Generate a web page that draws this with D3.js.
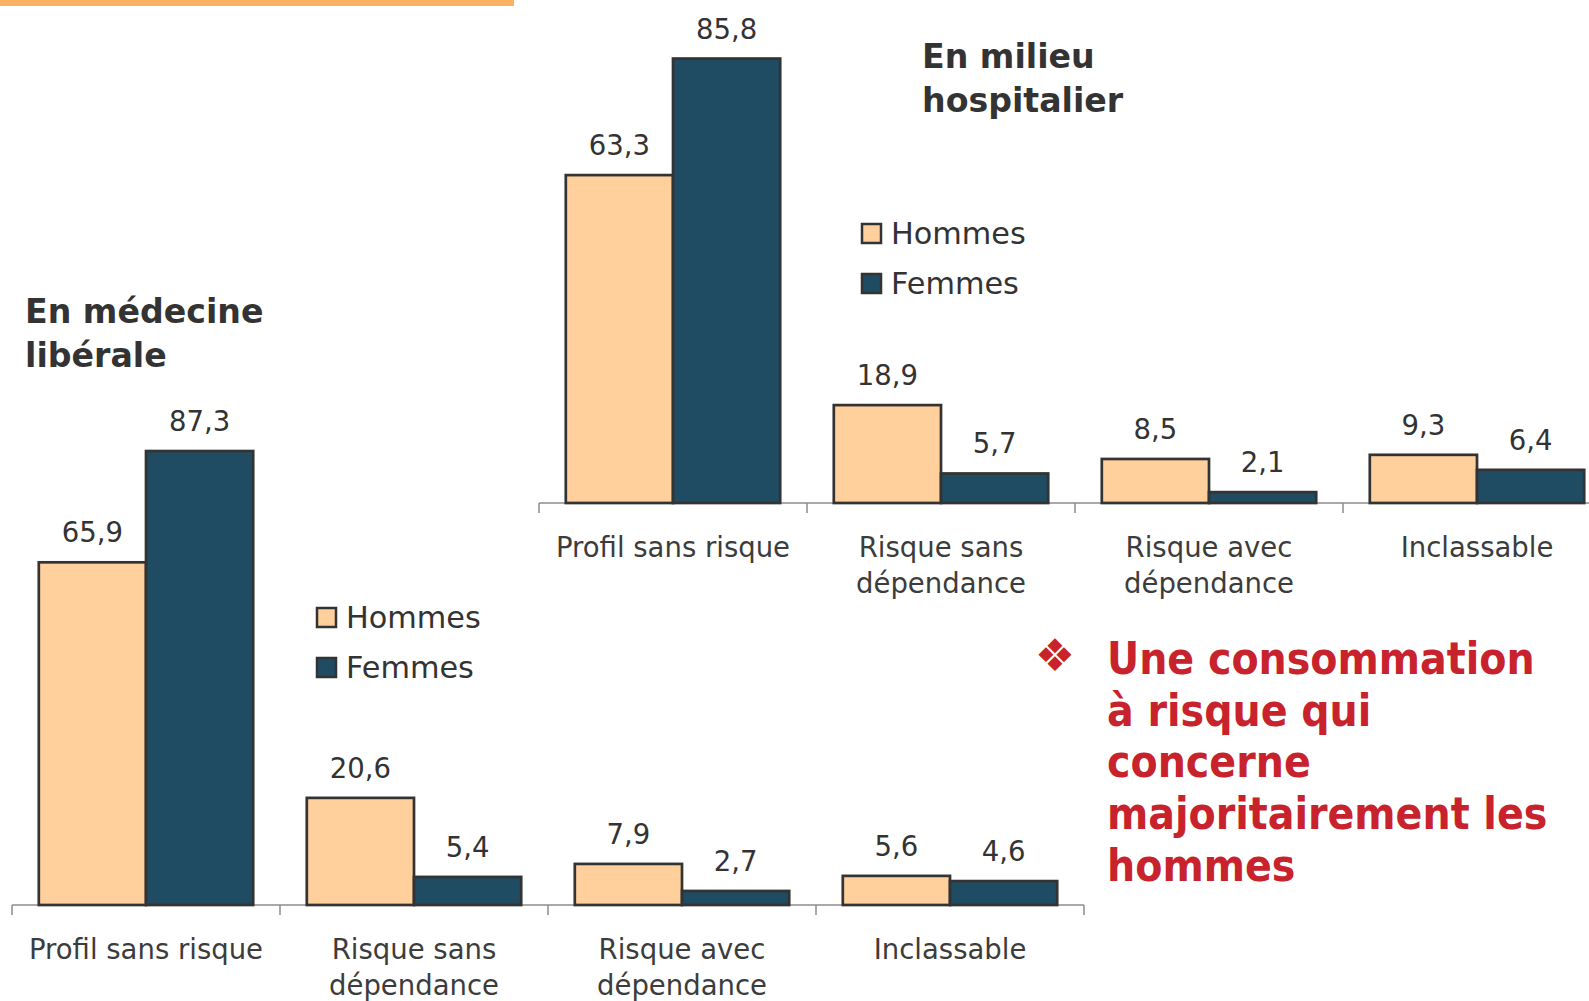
<!DOCTYPE html>
<html>
<head>
<meta charset="utf-8">
<script src="https://cdn.jsdelivr.net/npm/d3@7"></script>
<style>
  html, body { margin: 0; padding: 0; background: #ffffff; }
  svg { display: block; }
</style>
</head>
<body>
<svg id="chart" width="1589" height="1001"></svg>
<script>
// ---------- DATA ----------
const categories = ["Profil sans risque", "Risque sans dépendance", "Risque avec dépendance", "Inclassable"];
const categoryLines = [["Profil sans risque"], ["Risque sans", "dépendance"], ["Risque avec", "dépendance"], ["Inclassable"]];
const seriesNames = ["Hommes", "Femmes"];
const liberaleHommes = [65.9, 20.6, 7.9, 5.6];
const liberaleFemmes = [87.3, 5.4, 2.7, 4.6];
const hospitalierHommes = [63.3, 18.9, 8.5, 9.3];
const hospitalierFemmes = [85.8, 5.7, 2.1, 6.4];
const titleLiberale = ["En médecine", "libérale"];
const titleHospitalier = ["En milieu", "hospitalier"];
const messageLines = ["Une consommation", "à risque qui", "concerne", "majoritairement les", "hommes"];

// ---------- STYLE ----------
const colors = { Hommes: "#FFCF9C", Femmes: "#1F4C62" };
const textColor = "#333333";
const svg = d3.select("#chart");
const fmt = v => String(v).replace(".", ",");

// Top decorative band
svg.append("rect").attr("x", 0).attr("y", 0).attr("width", 514).attr("height", 6).attr("fill", "#FCB262");

function drawChart(opts) {
  const { x0, axisY, catWidth, pxPer100, hommes, femmes } = opts;
  const g = svg.append("g");
  const x = d3.scaleBand().domain(categories).range([x0, x0 + catWidth * categories.length]).padding(0);
  const xs = d3.scaleBand().domain(seriesNames).range([0, x.bandwidth()]).paddingInner(0).paddingOuter(0.25);
  const y = d3.scaleLinear().domain([0, 100]).range([axisY, axisY - pxPer100]);

  const rows = categories.map((c, i) => ({ cat: c, i, Hommes: hommes[i], Femmes: femmes[i] }));

  // axis line
  const [r0, r1] = x.range();
  g.append("line").attr("x1", r0).attr("x2", r1).attr("y1", axisY).attr("y2", axisY)
    .attr("stroke", "#8c8c8c").attr("stroke-width", 1.5);
  const tickPos = categories.map(c => x(c)).concat([r1]);
  g.selectAll("line.tick").data(tickPos).enter().append("line")
    .attr("class", "tick")
    .attr("x1", d => d).attr("x2", d => d)
    .attr("y1", axisY).attr("y2", axisY + 10)
    .attr("stroke", "#8c8c8c").attr("stroke-width", 1.5);

  // bars
  const groups = g.selectAll("g.cat").data(rows).enter().append("g")
    .attr("class", "cat").attr("transform", d => `translate(${x(d.cat)},0)`);
  groups.selectAll("rect").data(d => seriesNames.map(s => ({ s, v: d[s] }))).enter().append("rect")
    .attr("x", d => xs(d.s))
    .attr("y", d => y(d.v))
    .attr("width", xs.bandwidth())
    .attr("height", d => axisY - y(d.v))
    .attr("fill", d => colors[d.s])
    .attr("stroke", "#333333").attr("stroke-width", 2.7);
  groups.selectAll("text.val").data(d => seriesNames.map(s => ({ s, v: d[s] }))).enter().append("text")
    .attr("class", "val")
    .attr("x", d => xs(d.s) + xs.bandwidth() / 2)
    .attr("y", d => y(d.v) - 20)
    .attr("text-anchor", "middle")
    .attr("font-family", "DejaVu Sans, Verdana, sans-serif")
    .attr("font-size", 27.5)
    .attr("fill", textColor)
    .text(d => fmt(d.v));

  // category labels
  const lab = g.selectAll("text.cat").data(rows).enter().append("text")
    .attr("class", "cat")
    .attr("text-anchor", "middle")
    .attr("font-family", "DejaVu Sans, Verdana, sans-serif")
    .attr("font-size", 27.5)
    .attr("fill", "#3c3c3c");
  lab.selectAll("tspan").data(d => categoryLines[d.i].map((t, k) => ({ t, k, cx: x(d.cat) + x.bandwidth() / 2 })))
    .enter().append("tspan")
    .attr("x", d => d.cx)
    .attr("y", d => axisY + 54 + d.k * 36)
    .text(d => d.t);
}

function drawLegend(lx, ly) {
  const g = svg.append("g");
  seriesNames.forEach((s, i) => {
    g.append("rect").attr("x", lx).attr("y", ly + i * 50 - 20).attr("width", 19).attr("height", 19)
      .attr("fill", colors[s]).attr("stroke", "#333333").attr("stroke-width", 2.5);
    g.append("text").attr("x", lx + 29).attr("y", ly + i * 50)
      .attr("font-family", "DejaVu Sans, Verdana, sans-serif").attr("font-size", 30.3)
      .attr("fill", textColor).text(s);
  });
}

function drawTitle(lines, tx, ty) {
  const t = svg.append("text").attr("font-family", "DejaVu Sans, Verdana, sans-serif")
    .attr("font-weight", "bold").attr("font-size", 33.2).attr("fill", "#333333");
  lines.forEach((l, i) => t.append("tspan").attr("x", tx).attr("y", ty + i * 43.5).text(l));
}

// Left chart: En médecine libérale
drawChart({ x0: 12, axisY: 905, catWidth: 268, pxPer100: 520, hommes: liberaleHommes, femmes: liberaleFemmes });
drawLegend(317, 628);
drawTitle(titleLiberale, 25, 323);

// Right chart: En milieu hospitalier
drawChart({ x0: 539, axisY: 503, catWidth: 268, pxPer100: 518, hommes: hospitalierHommes, femmes: hospitalierFemmes });
drawLegend(862, 244);
drawTitle(titleHospitalier, 922, 68);

// Message
const red = "#C8232C";
svg.append("text").attr("x", 1055).attr("y", 671).attr("text-anchor", "middle")
  .attr("font-family", "DejaVu Sans, sans-serif").attr("font-size", 45).attr("fill", red).text("❖");
const msg = svg.append("text")
  .attr("font-family", "DejaVu Sans Condensed, DejaVu Sans, sans-serif")
  .attr("font-stretch", "condensed")
  .attr("font-weight", "bold").attr("font-size", 44).attr("fill", red);
messageLines.forEach((l, i) => msg.append("tspan").attr("x", 1107).attr("y", 674 + i * 51.7).text(l));
</script>
</body>
</html>
